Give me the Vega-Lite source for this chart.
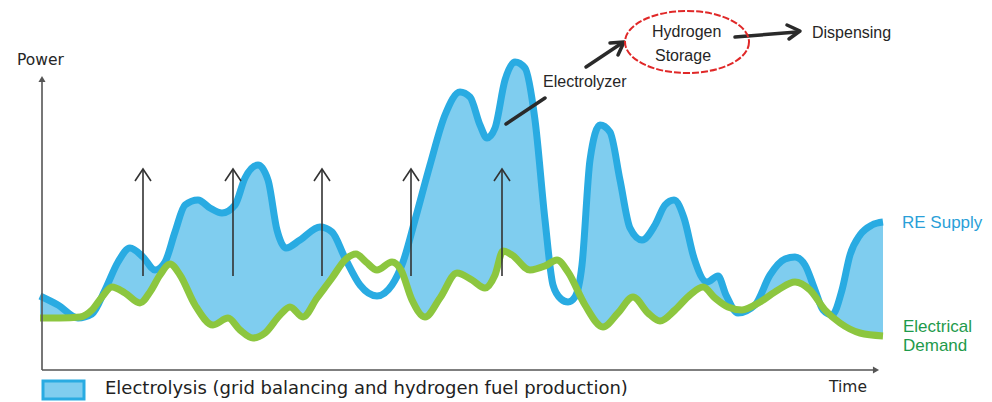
{
  "$schema": "https://vega.github.io/schema/vega-lite/v6.json",
  "width": 992,
  "height": 402,
  "autosize": {"type": "fit", "contains": "padding"},
  "padding": 0,
  "background": "white",
  "config": {"view": {"stroke": null}},
  "datasets": {
    "supply": [
      {"x":40,"y":296},{"x":58,"y":305},{"x":78,"y":318},{"x":92,"y":314},{"x":105,"y":290},{"x":118,"y":262},{"x":130,"y":248},{"x":143,"y":257},{"x":155,"y":270},{"x":165,"y":262},{"x":175,"y":232},{"x":185,"y":205},{"x":198,"y":200},{"x":210,"y":208},{"x":222,"y":213},{"x":235,"y":205},{"x":245,"y":178},{"x":258,"y":165},{"x":268,"y":180},{"x":277,"y":230},{"x":286,"y":248},{"x":300,"y":240},{"x":320,"y":227},{"x":332,"y":232},{"x":345,"y":258},{"x":360,"y":285},{"x":377,"y":296},{"x":392,"y":285},{"x":403,"y":262},{"x":415,"y":220},{"x":430,"y":165},{"x":445,"y":115},{"x":460,"y":92},{"x":470,"y":97},{"x":480,"y":125},{"x":487,"y":138},{"x":495,"y":128},{"x":505,"y":80},{"x":515,"y":62},{"x":525,"y":68},{"x":535,"y":120},{"x":545,"y":220},{"x":553,"y":285},{"x":561,"y":299},{"x":568,"y":302},{"x":575,"y":297},{"x":582,"y":265},{"x":590,"y":160},{"x":600,"y":125},{"x":610,"y":132},{"x":620,"y":180},{"x":630,"y":228},{"x":642,"y":240},{"x":655,"y":225},{"x":665,"y":205},{"x":674,"y":200},{"x":684,"y":218},{"x":694,"y":258},{"x":707,"y":282},{"x":718,"y":276},{"x":726,"y":295},{"x":738,"y":313},{"x":755,"y":305},{"x":770,"y":275},{"x":785,"y":259},{"x":795,"y":257},{"x":805,"y":265},{"x":815,"y":290},{"x":823,"y":310},{"x":832,"y":315},{"x":842,"y":290},{"x":850,"y":255},{"x":860,"y":235},{"x":872,"y":225},{"x":883,"y":222}
    ],
    "demand": [
      {"x":40,"y":318},{"x":60,"y":318},{"x":80,"y":317},{"x":92,"y":310},{"x":102,"y":297},{"x":112,"y":287},{"x":125,"y":293},{"x":140,"y":303},{"x":150,"y":292},{"x":160,"y":275},{"x":170,"y":264},{"x":180,"y":275},{"x":195,"y":305},{"x":213,"y":325},{"x":228,"y":318},{"x":240,"y":330},{"x":253,"y":338},{"x":265,"y":333},{"x":280,"y":315},{"x":290,"y":307},{"x":303,"y":317},{"x":317,"y":298},{"x":332,"y":278},{"x":345,"y":260},{"x":356,"y":254},{"x":366,"y":262},{"x":377,"y":270},{"x":392,"y":262},{"x":401,"y":270},{"x":412,"y":300},{"x":425,"y":317},{"x":440,"y":298},{"x":457,"y":273},{"x":472,"y":280},{"x":485,"y":288},{"x":495,"y":275},{"x":503,"y":251},{"x":512,"y":255},{"x":530,"y":270},{"x":545,"y":266},{"x":557,"y":260},{"x":568,"y":272},{"x":585,"y":305},{"x":603,"y":327},{"x":618,"y":313},{"x":633,"y":297},{"x":648,"y":313},{"x":660,"y":321},{"x":675,"y":310},{"x":690,"y":295},{"x":703,"y":287},{"x":715,"y":298},{"x":728,"y":307},{"x":742,"y":310},{"x":760,"y":302},{"x":778,"y":290},{"x":795,"y":282},{"x":810,"y":290},{"x":825,"y":310},{"x":840,"y":323},{"x":860,"y":333},{"x":883,"y":336}
    ],
    "paths": [
      {"id":"yaxis","kind":"axis","ord":0,"x":42,"y":370},{"id":"yaxis","kind":"axis","ord":1,"x":42,"y":80},
      {"id":"xaxis","kind":"axis","ord":0,"x":42,"y":370},{"id":"xaxis","kind":"axis","ord":1,"x":875,"y":370},
      {"id":"u1","kind":"up","ord":0,"x":143,"y":276},{"id":"u1","kind":"up","ord":1,"x":143,"y":169},
      {"id":"h1","kind":"up","ord":0,"x":135,"y":181},{"id":"h1","kind":"up","ord":1,"x":143,"y":169},{"id":"h1","kind":"up","ord":2,"x":151,"y":181},
      {"id":"u2","kind":"up","ord":0,"x":233,"y":276},{"id":"u2","kind":"up","ord":1,"x":233,"y":169},
      {"id":"h2","kind":"up","ord":0,"x":225,"y":181},{"id":"h2","kind":"up","ord":1,"x":233,"y":169},{"id":"h2","kind":"up","ord":2,"x":241,"y":181},
      {"id":"u3","kind":"up","ord":0,"x":322,"y":276},{"id":"u3","kind":"up","ord":1,"x":322,"y":169},
      {"id":"h3","kind":"up","ord":0,"x":314,"y":181},{"id":"h3","kind":"up","ord":1,"x":322,"y":169},{"id":"h3","kind":"up","ord":2,"x":330,"y":181},
      {"id":"u4","kind":"up","ord":0,"x":411,"y":276},{"id":"u4","kind":"up","ord":1,"x":411,"y":169},
      {"id":"h4","kind":"up","ord":0,"x":403,"y":181},{"id":"h4","kind":"up","ord":1,"x":411,"y":169},{"id":"h4","kind":"up","ord":2,"x":419,"y":181},
      {"id":"u5","kind":"up","ord":0,"x":502,"y":276},{"id":"u5","kind":"up","ord":1,"x":502,"y":169},
      {"id":"h5","kind":"up","ord":0,"x":494,"y":181},{"id":"h5","kind":"up","ord":1,"x":502,"y":169},{"id":"h5","kind":"up","ord":2,"x":510,"y":181},
      {"id":"p1","kind":"pointer","ord":0,"x":506,"y":124},{"id":"p1","kind":"pointer","ord":1,"x":545,"y":98},
      {"id":"p2","kind":"pointer","ord":0,"x":586,"y":67},{"id":"p2","kind":"pointer","ord":1,"x":622,"y":43},
      {"id":"p2h","kind":"pointer","ord":0,"x":610,"y":43},{"id":"p2h","kind":"pointer","ord":1,"x":624,"y":42},{"id":"p2h","kind":"pointer","ord":2,"x":618,"y":55},
      {"id":"p3","kind":"pointer","ord":0,"x":735,"y":37},{"id":"p3","kind":"pointer","ord":1,"x":797,"y":32},
      {"id":"p3h","kind":"pointer","ord":0,"x":787,"y":25},{"id":"p3h","kind":"pointer","ord":1,"x":800,"y":31},{"id":"p3h","kind":"pointer","ord":2,"x":789,"y":39}
    ],
    "heads": [
      {"dir":"up","x":42,"y":79},
      {"dir":"right","x":876,"y":370}
    ],
    "labels": [
      {"kind":"axis","label":"Power","x":17,"y":60},
      {"kind":"axis","label":"Time","x":829,"y":387},
      {"kind":"plain","label":"Electrolyzer","x":543,"y":82},
      {"kind":"plain","label":"Hydrogen","x":652,"y":32},
      {"kind":"plain","label":"Storage","x":655,"y":56},
      {"kind":"plain","label":"Dispensing","x":812,"y":33},
      {"kind":"supply","label":"RE Supply","x":902,"y":223},
      {"kind":"demand","label":"Electrical","x":903,"y":327},
      {"kind":"demand","label":"Demand","x":903,"y":346},
      {"kind":"legend","label":"Electrolysis (grid balancing and hydrogen fuel production)","x":105,"y":389}
    ],
    "legendbox": [{"x":43,"x2":84,"y":381,"y2":399}],
    "storage": [{"x":687,"y":42}]
  },
  "encoding": {
    "x": {"field": "x", "type": "quantitative", "scale": {"domain": [0, 992], "nice": false, "zero": false}, "axis": null},
    "y": {"field": "y", "type": "quantitative", "scale": {"domain": [0, 402], "nice": false, "zero": false, "reverse": true}, "axis": null}
  },
  "layer": [
    {"data": {"name": "supply"}, "mark": {"type": "area", "interpolate": "monotone", "color": "#7fcdef", "opacity": 1}, "encoding": {"y2": {"datum": 366}}},
    {"data": {"name": "demand"}, "mark": {"type": "area", "interpolate": "monotone", "color": "white", "opacity": 1}, "encoding": {"y2": {"datum": 367}}},
    {"data": {"name": "supply"}, "mark": {"type": "line", "interpolate": "monotone", "color": "#29abe2", "strokeWidth": 7, "strokeCap": "butt", "strokeJoin": "round"}, "encoding": {}},
    {"data": {"name": "demand"}, "mark": {"type": "line", "interpolate": "monotone", "color": "#8cc63f", "strokeWidth": 7, "strokeCap": "butt", "strokeJoin": "round"}, "encoding": {}},
    {"data": {"name": "paths"}, "transform": [{"filter": "datum.kind === 'axis'"}], "mark": {"type": "line", "color": "#555555", "strokeWidth": 1.6}, "encoding": {"detail": {"field": "id"}, "order": {"field": "ord"}}},
    {"data": {"name": "paths"}, "transform": [{"filter": "datum.kind === 'up'"}], "mark": {"type": "line", "color": "#333333", "strokeWidth": 1.6}, "encoding": {"detail": {"field": "id"}, "order": {"field": "ord"}}},
    {"data": {"name": "paths"}, "transform": [{"filter": "datum.kind === 'pointer'"}], "mark": {"type": "line", "color": "#2a2a2a", "strokeWidth": 3.5, "strokeCap": "round", "strokeJoin": "round"}, "encoding": {"detail": {"field": "id"}, "order": {"field": "ord"}}},
    {"data": {"name": "heads"}, "transform": [{"filter": "datum.dir === 'up'"}], "mark": {"type": "point", "shape": "triangle-up", "filled": true, "color": "#555555", "size": 50, "opacity": 1}},
    {"data": {"name": "heads"}, "transform": [{"filter": "datum.dir === 'right'"}], "mark": {"type": "point", "shape": "triangle-right", "filled": true, "color": "#555555", "size": 50, "opacity": 1}},
    {"data": {"name": "storage"}, "mark": {"type": "point", "shape": "M 1 0 C 1 0.276 0.552 0.5 0 0.5 C -0.552 0.5 -1 0.276 -1 0 C -1 -0.276 -0.552 -0.5 0 -0.5 C 0.552 -0.5 1 -0.276 1 0 Z", "filled": false, "stroke": "#e02828", "strokeWidth": 2, "strokeDash": [7, 2], "size": 15376, "opacity": 1}},
    {"data": {"name": "legendbox"}, "mark": {"type": "rect", "fill": "#7fcdef", "stroke": "#29abe2", "strokeWidth": 3}, "encoding": {"x2": {"field": "x2"}, "y2": {"field": "y2"}}},
    {"data": {"name": "labels"}, "transform": [{"filter": "datum.kind === 'axis'"}], "mark": {"type": "text", "align": "left", "baseline": "middle", "font": "DejaVu Sans", "fontSize": 15.5, "color": "#262626"}, "encoding": {"text": {"field": "label"}}},
    {"data": {"name": "labels"}, "transform": [{"filter": "datum.kind === 'plain'"}], "mark": {"type": "text", "align": "left", "baseline": "middle", "font": "Liberation Sans", "fontSize": 16, "color": "#262626"}, "encoding": {"text": {"field": "label"}}},
    {"data": {"name": "labels"}, "transform": [{"filter": "datum.kind === 'supply'"}], "mark": {"type": "text", "align": "left", "baseline": "middle", "font": "Liberation Sans", "fontSize": 17, "color": "#2a9fd8"}, "encoding": {"text": {"field": "label"}}},
    {"data": {"name": "labels"}, "transform": [{"filter": "datum.kind === 'demand'"}], "mark": {"type": "text", "align": "left", "baseline": "middle", "font": "Liberation Sans", "fontSize": 17, "color": "#1e9a4b"}, "encoding": {"text": {"field": "label"}}},
    {"data": {"name": "labels"}, "transform": [{"filter": "datum.kind === 'legend'"}], "mark": {"type": "text", "align": "left", "baseline": "middle", "font": "DejaVu Sans", "fontSize": 18, "color": "#222222"}, "encoding": {"text": {"field": "label"}}}
  ]
}
